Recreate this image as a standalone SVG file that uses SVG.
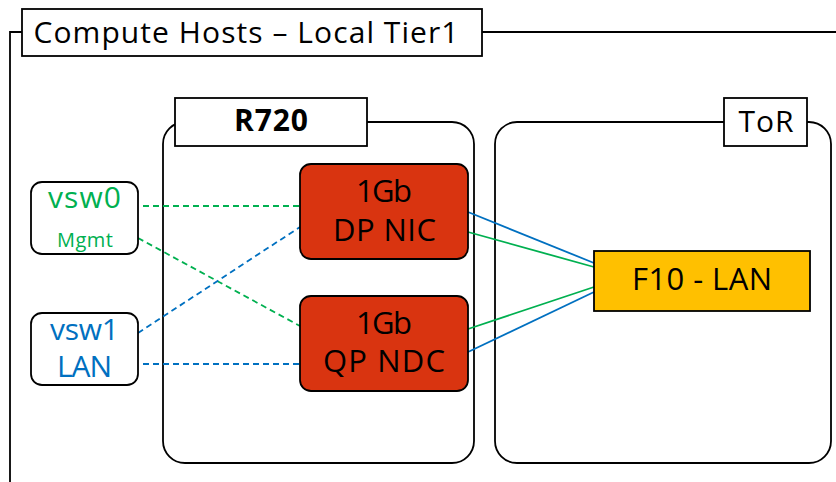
<svg xmlns="http://www.w3.org/2000/svg" width="836" height="482" viewBox="0 0 836 482">
<style>
text{font-family:"Open Sans","Liberation Sans",sans-serif;font-weight:400;fill:#000;text-anchor:middle}
.box{fill:#fff;stroke:#000;stroke-width:1.8}
.nic{fill:#D93410;stroke:#000;stroke-width:1.8}
.f10{fill:#FFC000;stroke:#000;stroke-width:1.8}
.g{stroke:#00B050;stroke-width:1.8;fill:none}
.b{stroke:#0070C0;stroke-width:1.8;fill:none}
.d{stroke-dasharray:6 4}
.gt{fill:#00B050}
.bt{fill:#0070C0}
</style>
<g id="frame">
<path d="M10 482 V32 H22 M482 32 H836" fill="none" stroke="#000" stroke-width="1.8"/>
<rect class="box" x="22" y="9" width="460" height="47"/>
<text x="246" y="43" font-size="30" textLength="425">Compute Hosts – Local Tier1</text>
</g>
<g id="r720">
<rect class="box" x="163" y="122" width="311" height="341" rx="22"/>
<rect class="box" x="175" y="98" width="192" height="48"/>
<text x="271" y="131" font-size="30" style="font-weight:700" textLength="74">R720</text>
</g>
<g id="tor">
<rect class="box" x="495" y="122" width="336" height="341" rx="22"/>
<rect class="box" x="724" y="98" width="83" height="48"/>
<text x="766" y="132" font-size="30" textLength="55">ToR</text>
</g>
<g id="connectors">
<line class="g d" x1="143" y1="206" x2="300" y2="206"/>
<line class="g d" x1="138" y1="238" x2="300" y2="326"/>
<line class="b d" x1="138" y1="333" x2="300" y2="227"/>
<line class="b d" x1="143" y1="364" x2="300" y2="364"/>
<line class="b" x1="468" y1="212" x2="594" y2="263"/>
<line class="g" x1="468" y1="232" x2="594" y2="267"/>
<line class="g" x1="468" y1="329" x2="594" y2="287"/>
<line class="b" x1="468" y1="352" x2="594" y2="292"/>
</g>
<g id="vsw0">
<rect class="box" x="31" y="182" width="107" height="72" rx="11"/>
<text class="gt" x="84.5" y="208" font-size="30" textLength="73">vsw0</text>
<text class="gt" x="85" y="247" font-size="20" textLength="56">Mgmt</text>
</g>
<g id="vsw1">
<rect class="box" x="31" y="313" width="107" height="72" rx="11"/>
<text class="bt" x="84.5" y="340" font-size="30" textLength="69">vsw1</text>
<text class="bt" x="84.5" y="377" font-size="30" textLength="55">LAN</text>
</g>
<g id="dpnic">
<rect class="nic" x="300" y="164" width="168" height="95" rx="11"/>
<text x="384" y="202" font-size="31" textLength="56">1Gb</text>
<text x="384.5" y="241" font-size="31" textLength="103">DP NIC</text>
</g>
<g id="qpndc">
<rect class="nic" x="300" y="296" width="168" height="95" rx="11"/>
<text x="384" y="334" font-size="31" textLength="56">1Gb</text>
<text x="384" y="372" font-size="31" textLength="122">QP NDC</text>
</g>
<g id="f10">
<rect class="f10" x="594" y="251" width="216" height="60"/>
<text x="702" y="290" font-size="31" textLength="140">F10 - LAN</text>
</g>
</svg>
